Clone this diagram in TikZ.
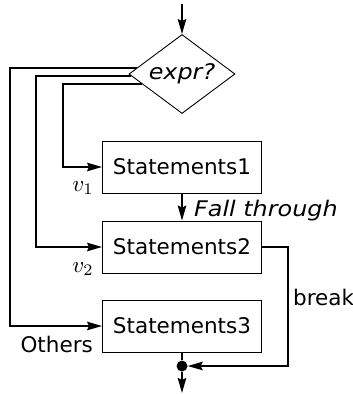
\documentclass[tikz,border=0pt]{standalone}
\usepackage{fontspec}
\setmainfont{DejaVu Sans}
\usetikzlibrary{shapes.geometric,arrows.meta}
\newcommand{\bigmath}[1]{{\fontsize{10}{12}\selectfont\scalebox{2.3}{$#1$}}}
\newcommand{\wideit}[1]{\scalebox{1.11}[1]{\itshape #1}}
\begin{document}
\begin{tikzpicture}[x=1pt,y=-1pt,
 txt/.style={font=\fontsize{21.5}{26}\selectfont},
 stmt/.style={draw, line width=0.9pt, minimum width=159pt, minimum height=52pt, inner sep=0pt, txt},
 dec/.style={draw, diamond, line width=0.9pt, minimum width=106pt, minimum height=79pt, inner sep=0pt, aspect=1.34, txt},
 conn/.style={line width=1.7pt, -{Stealth[length=15pt,width=8.5pt,inset=2pt]}},
 plain/.style={line width=1.7pt},
 lbl/.style={txt, inner sep=0pt},
 dot/.style={circle, fill, inner sep=0pt, minimum size=11pt}]
\useasboundingbox (0,0) rectangle (353,394);
\node[dec] (d) at (182,74) {\wideit{expr?}};
\node[stmt] (s1) at (182,167) {Statements1};
\node[stmt] (s2) at (182,247) {Statements2};
\node[stmt] (s3) at (182,326) {Statements3};
\node[dot] (j) at (182,366) {};
\coordinate (top) at (182,4);
\coordinate (bot) at (182,393);
\coordinate (c1) at (63,167);
\coordinate (c2) at (36,247);
\coordinate (c3) at (10,326);
\coordinate (b) at (288,366);
\draw[conn] (top) -- (d.north);
\draw[conn] (d.194) -| (c1) -- (s1.west);
\draw[conn] (d.182.3) -| (c2) -- (s2.west);
\draw[conn] (d.172.4) -| (c3) -- (s3.west);
\draw[conn] (s1.south) -- (s2.north);
\draw[conn] (s2.east) -| (b) -- (j);
\draw[plain] (s3.south) -- (j);
\draw[conn] (j) -- (bot);
\node[lbl, anchor=base west] (ft) at (194,216) {\wideit{Fall through}};
\node[lbl, anchor=base west] (br) at (293,305) {break};
\node[lbl, anchor=base east] (ot) at (93,352) {Others};
\node[lbl] (v1) at (83,188) {\bigmath{v_1}};
\node[lbl] (v2) at (83,269) {\bigmath{v_2}};
\end{tikzpicture}
\end{document}
